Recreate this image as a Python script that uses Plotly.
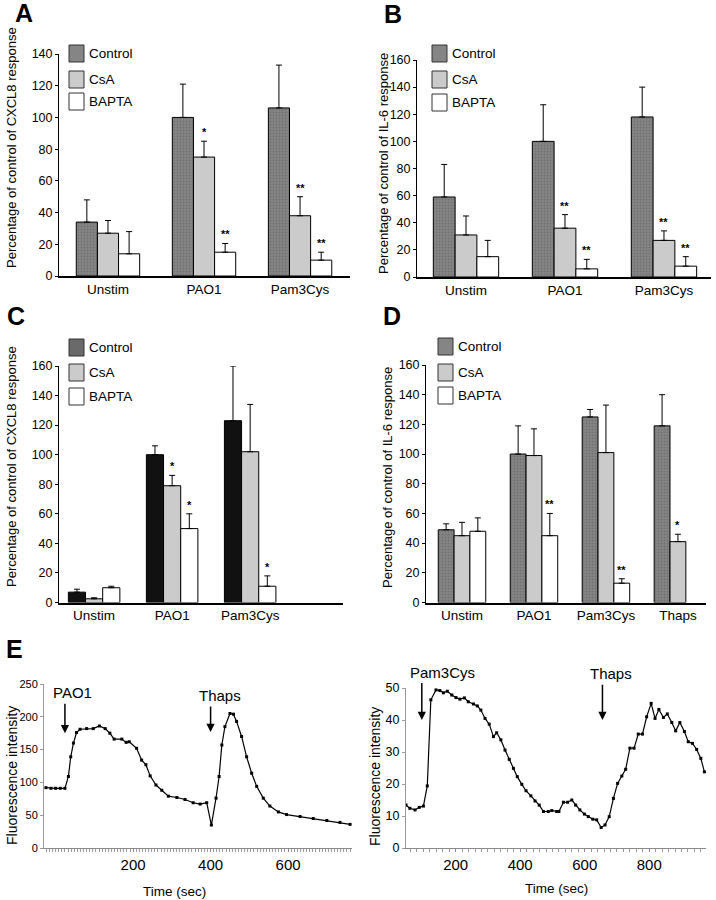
import plotly.graph_objects as go

FONT = "Liberation Sans, Arial, Helvetica, sans-serif"
W, H = 716, 900

# ---------------- data ----------------
series_names = ["Control", "CsA", "BAPTA"]

# Panel A (CXCL8)
A_cats = ["Unstim", "PAO1", "Pam3Cys"]
A_control = [34, 100, 106]
A_control_err = [14, 21, 27]
A_csa = [27, 75, 38]
A_csa_err = [8, 10, 12]
A_bapta = [14, 15, 10]
A_bapta_err = [14, 5.5, 5]
A_sig_csa = ["", "*", "**"]
A_sig_bapta = ["", "**", "**"]

# Panel B (IL-6)
B_cats = ["Unstim", "PAO1", "Pam3Cys"]
B_control = [59, 100, 118]
B_control_err = [24, 27, 22]
B_csa = [31, 36, 27]
B_csa_err = [14, 10, 7]
B_bapta = [15, 6, 8]
B_bapta_err = [12, 7, 7]
B_sig_csa = ["", "**", "**"]
B_sig_bapta = ["", "**", "**"]

# Panel C (CXCL8)
C_cats = ["Unstim", "PAO1", "Pam3Cys"]
C_control = [7, 100, 123]
C_control_err = [2, 6, 37]
C_csa = [2.5, 79, 102]
C_csa_err = [0.7, 7, 32]
C_bapta = [10, 50, 11]
C_bapta_err = [1, 10, 7]
C_sig_csa = ["", "*", ""]
C_sig_bapta = ["", "*", "*"]

# Panel D (IL-6)
D_cats = ["Unstim", "PAO1", "Pam3Cys", "Thaps"]
D_control = [49, 100, 125, 119]
D_control_err = [4, 19, 5, 21]
D_csa = [45, 99, 101, 41]
D_csa_err = [9, 18, 32, 5]
D_bapta = [48, 45, 13, None]
D_bapta_err = [9, 15, 3, None]
D_sig_csa = ["", "", "", "*"]
D_sig_bapta = ["", "**", "**", ""]

# Panel E left (PAO1 then Thaps)
EL_time = [-25, -12, 0, 12, 24, 33, 39, 46, 54, 63, 80, 97, 113, 128, 140, 151,
           171, 182, 190, 209, 222, 233, 244, 259, 274, 291, 313, 334, 355, 373,
           390, 402, 414, 422, 429, 437, 450, 459, 467, 480, 493, 506, 519, 536,
           553, 575, 596, 631, 665, 700, 734, 760]
EL_fluor = [92, 91, 91, 91, 91, 109, 139, 160, 176, 181, 182, 182, 186, 182, 175, 166,
            166, 161, 162, 152, 134, 127, 110, 96, 88, 79, 77, 74, 69, 67,
            69, 35, 76, 109, 157, 185, 205, 204, 193, 170, 139, 114, 94, 76,
            64, 55, 51, 48, 45, 42, 39, 36]

# Panel E right (Pam3Cys then Thaps)
ER_time = [46, 58, 74, 87, 100, 112, 123, 139, 151, 162, 174, 188, 201, 213, 227,
           239, 255, 267, 278, 291, 304, 317, 327, 340, 353, 366, 379, 391, 405,
           418, 433, 446, 459, 472, 487, 498, 513, 520, 534, 547, 560, 572, 585,
           599, 611, 625, 637, 651, 663, 676, 689, 702, 715, 727, 740, 753, 766,
           779, 792, 806, 818, 830, 844, 856, 870, 882, 895, 909, 921, 934, 947,
           960, 971]
ER_fluor = [13.4, 12.4, 11.9, 12.7, 13.1, 19.4, 46.3, 49.4, 49.2, 48.5, 49.0, 47.8,
            47.0, 46.5, 46.9, 45.7, 45.0, 44.4, 43.1, 40.5, 38.7, 34.8, 36.0, 33.8,
            30.6, 27.7, 24.9, 22.3, 19.9, 17.9, 16.3, 14.7, 13.4, 11.4, 11.4, 11.7,
            11.4, 11.4, 14.3, 14.3, 15.0, 13.4, 11.9, 10.6, 9.8, 9.0, 8.8, 6.4, 7.2,
            9.8, 15.5, 20.2, 22.5, 24.6, 31.2, 31.2, 35.6, 35.6, 41.0, 45.2, 40.5,
            43.3, 40.8, 41.9, 39.2, 36.6, 39.2, 36.4, 33.2, 32.7, 30.8, 28.0, 23.8]

# stimulus markers (label, time, arrow tail, arrow tip)
EL_events = [("PAO1", 24, 222, 175), ("Thaps", 400, 218, 177)]
ER_events = [("Pam3Cys", 95, 52, 40), ("Thaps", 655, 51.5, 40)]
EL_yrange = [0, 250]
ER_yrange = [0, 50]

# ---------------- helpers ----------------
def dx(a, b):
    return [a / W, b / W]


def dy(top, bottom):
    return [1 - bottom / H, 1 - top / H]


BARGAP = 0.34
BW = (1 - BARGAP) / 3

fig = go.Figure()
annotations = []
shapes = []

GRAY_DARK = "#858585"
GRAY_LIGHT = "#cbcbcb"


def bar_panel(k, cats, vals, errs, sigs, control_color, textured):
    xa, ya = f"x{k}", f"y{k}"
    idx = list(range(len(cats)))
    colors = [control_color, GRAY_LIGHT, "#ffffff"]
    for s, (name, v, e) in enumerate(zip(series_names, vals, errs)):
        marker = dict(color=colors[s], line=dict(color="black", width=1))
        if s == 0 and textured:
            marker["pattern"] = dict(shape=".", fillmode="overlay",
                                     fgcolor="#5e5e5e", size=3, solidity=0.35)
        fig.add_trace(go.Bar(
            x=idx, y=v, name=name, xaxis=xa, yaxis=ya, showlegend=False,
            marker=marker,
            error_y=dict(type="data", array=e, arrayminus=[0] * len(e),
                         symmetric=False, color="black", thickness=1, width=3),
        ))
    for s, sig in sigs.items():
        for i, lab in enumerate(sig):
            if lab:
                top = vals[s][i] + errs[s][i]
                annotations.append(dict(
                    x=i + (s - 1) * BW, y=top, xref=xa, yref=ya, text=f"<b>{lab}</b>",
                    showarrow=False, xanchor="center", yanchor="bottom", yshift=1,
                    font=dict(size=11, family=FONT, color="black")))


def legend_block(x0, tops, control_color):
    colors = [control_color, GRAY_LIGHT, "#ffffff"]
    for s, (name, t) in enumerate(zip(series_names, tops)):
        shp = dict(type="rect", xref="paper", yref="paper",
                   x0=x0 / W, x1=(x0 + 15) / W, y0=1 - (t + 17) / H, y1=1 - t / H,
                   fillcolor=colors[s], line=dict(color="#333", width=1))
        shapes.append(shp)
        annotations.append(dict(
            x=(x0 + 18) / W, y=1 - (t + 8.5) / H, xref="paper", yref="paper",
            text=name, showarrow=False, xanchor="left", yanchor="middle",
            font=dict(size=13.5, family=FONT, color="black")))


bar_panel(1, A_cats, [A_control, A_csa, A_bapta],
          [A_control_err, A_csa_err, A_bapta_err],
          {1: A_sig_csa, 2: A_sig_bapta}, GRAY_DARK, True)
bar_panel(2, B_cats, [B_control, B_csa, B_bapta],
          [B_control_err, B_csa_err, B_bapta_err],
          {1: B_sig_csa, 2: B_sig_bapta}, GRAY_DARK, True)
bar_panel(3, C_cats, [C_control, C_csa, C_bapta],
          [C_control_err, C_csa_err, C_bapta_err],
          {1: C_sig_csa, 2: C_sig_bapta}, "#111111", False)
bar_panel(4, D_cats, [D_control, D_csa, D_bapta],
          [D_control_err, D_csa_err, D_bapta_err],
          {1: D_sig_csa, 2: D_sig_bapta}, GRAY_DARK, True)

legend_block(69, [45, 71, 93], GRAY_DARK)
legend_block(432, [45, 71, 94], GRAY_DARK)
legend_block(69, [339, 364, 388], "#6a6a6a")
legend_block(438, [338, 364, 387], GRAY_DARK)

line_style = dict(color="black", width=1.2)
fig.add_trace(go.Scatter(x=EL_time, y=EL_fluor, mode="lines+markers", xaxis="x5", yaxis="y5",
                         line=line_style, marker=dict(size=3, color="black", symbol="square"),
                         showlegend=False))
fig.add_trace(go.Scatter(x=ER_time, y=ER_fluor, mode="lines+markers", xaxis="x6", yaxis="y6",
                         line=line_style, marker=dict(size=3, color="black", symbol="square"),
                         showlegend=False))

for k, events, yr in ((5, EL_events, EL_yrange), (6, ER_events, ER_yrange)):
    for name, t, tail, tip in events:
        annotations.append(dict(x=t, y=tip, ax=t, ay=tail, xref=f"x{k}", yref=f"y{k}",
                                axref=f"x{k}", ayref=f"y{k}", text="", showarrow=True,
                                arrowhead=2, arrowsize=1.1, arrowwidth=1.5, arrowcolor="black"))
        annotations.append(dict(x=t, y=(tail - yr[0]) / (yr[1] - yr[0]),
                                xref=f"x{k}", yref=f"y{k} domain", text=name,
                                showarrow=False, yanchor="bottom", xanchor="left",
                                xshift=-14, yshift=-1,
                                font=dict(size=15, family=FONT, color="black")))

# ---------------- axes ----------------
cat_axis = dict(showline=True, linecolor="black", linewidth=1.5, ticks="", showgrid=False,
                zeroline=False, tickfont=dict(size=13.5, family=FONT, color="black"),
                fixedrange=True, automargin=False)
val_axis = dict(showline=True, linecolor="black", linewidth=1, ticks="outside", ticklen=3,
                tickcolor="black", showgrid=False, zeroline=False, dtick=20,
                tickfont=dict(size=12.5, family=FONT, color="black"), fixedrange=True,
                automargin=False)


def cat_ax(k, cats, dom, rng):
    return dict(cat_axis, domain=dx(*dom), range=rng, anchor=f"y{k}",
                tickmode="array", tickvals=list(range(len(cats))), ticktext=cats)


def val_ax(k, dom, rng):
    return dict(val_axis, domain=dy(*dom), range=rng, anchor=f"x{k}")


layout_axes = {
    "xaxis": cat_ax(1, A_cats, (59, 350), [-0.51, 2.52]),
    "yaxis": val_ax(1, (54, 276), [0, 140]),
    "xaxis2": cat_ax(2, B_cats, (417, 711), [-0.495, 2.475]),
    "yaxis2": val_ax(2, (60, 277), [0, 160]),
    "xaxis3": cat_ax(3, C_cats, (59, 343), [-0.45, 3.19]),
    "yaxis3": val_ax(3, (366, 602.5), [0, 160]),
    "xaxis4": cat_ax(4, D_cats, (426, 706), [-0.5, 3.39]),
    "yaxis4": val_ax(4, (365, 602.5), [0, 160]),
}

time_axis = dict(showline=True, linecolor="#8a8a8a", linewidth=1, showgrid=False, zeroline=False,
                 ticks="outside", ticklen=3, tickcolor="#8a8a8a", automargin=False,
                 tickfont=dict(size=15, family=FONT, color="black"), fixedrange=True)
fl_axis = dict(showline=True, linecolor="#9a9a9a", linewidth=1, showgrid=False, zeroline=False,
               ticks="outside", ticklen=3, tickcolor="#9a9a9a", fixedrange=True,
               automargin=False)

layout_axes.update({
    "xaxis5": dict(time_axis, domain=dx(44, 352), range=[-30, 765], anchor="y5",
                   tickvals=[200, 400, 600],
                   minor=dict(ticks="outside", dtick=8, ticklen=3, tickcolor="#9a9a9a")),
    "yaxis5": dict(fl_axis, domain=dy(684, 848), range=EL_yrange, dtick=50, anchor="x5",
                   tickfont=dict(size=11, family=FONT, color="black")),
    "xaxis6": dict(time_axis, domain=dx(406, 706), range=[46, 976], anchor="y6",
                   tickvals=[200, 400, 600, 800],
                   minor=dict(ticks="outside", dtick=20, ticklen=3, tickcolor="#9a9a9a")),
    "yaxis6": dict(fl_axis, domain=dy(688, 848), range=ER_yrange, dtick=10, anchor="x6",
                   tickfont=dict(size=12.5, family=FONT, color="black")),
})


# titles and panel letters (paper coordinates, explicitly centred)
def paper_text(x, y, text, size, angle=0):
    annotations.append(dict(x=x / W, y=1 - y / H, xref="paper", yref="paper", text=text,
                            textangle=angle, showarrow=False,
                            xanchor="center", yanchor="middle",
                            font=dict(size=size, family=FONT, color="black")))


paper_text(12, 148, "Percentage of control of CXCL8 response", 13, -90)
paper_text(383, 164, "Percentage of control of IL-6 response", 13, -90)
paper_text(12, 467, "Percentage of control of CXCL8 response", 13, -90)
paper_text(387, 478, "Percentage of control of IL-6 response", 13, -90)
paper_text(12, 776, "Fluorescence intensity", 14, -90)
paper_text(375, 777, "Fluorescence intensity", 14, -90)
paper_text(174, 891, "Time (sec)", 13.5)
paper_text(556, 888, "Time (sec)", 13.5)

for letter, xx, yy in (("A", 24, 13), ("B", 393, 14), ("C", 16, 316), ("D", 392, 316),
                       ("E", 14, 649)):
    paper_text(xx, yy, f"<b>{letter}</b>", 25)

fig.update_layout(
    width=W, height=H, autosize=False,
    margin=dict(l=0, r=0, t=0, b=0, pad=0),
    paper_bgcolor="white", plot_bgcolor="white",
    barmode="group", bargap=BARGAP, bargroupgap=0,
    showlegend=False,
    annotations=annotations, shapes=shapes,
    font=dict(family=FONT, color="black"),
    **layout_axes,
)

# remove the browser's default page margin so the 716x900 figure fills the window
fig.write_html("out.html", config={"displayModeBar": False},
               post_script="document.body.style.margin='0px';")
